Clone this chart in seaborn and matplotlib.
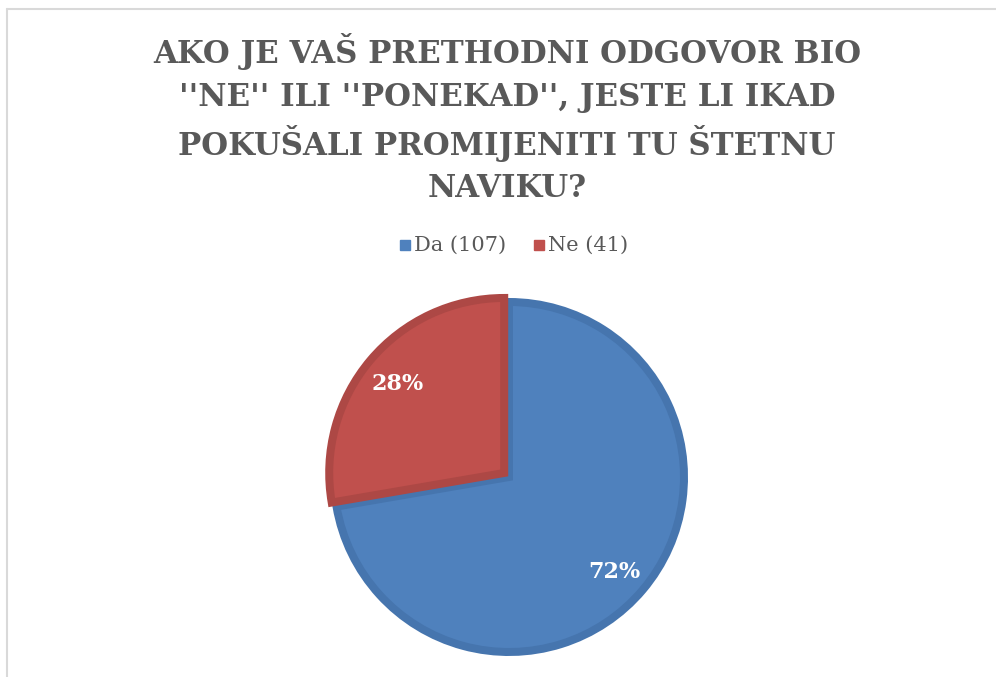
import matplotlib
matplotlib.use("Agg")
import matplotlib.pyplot as plt
from matplotlib.lines import Line2D
import seaborn as sns

# data
labels = ["Da", "Ne"]
counts = [107, 41]
shares = [72, 28]
colors = ["#4F81BD", "#C0504D"]
edge_colors = ["#4675AE", "#AD4845"]
title_lines = [
    "AKO JE VAŠ PRETHODNI ODGOVOR BIO",
    "''NE'' ILI ''PONEKAD'', JESTE LI IKAD",
    "POKUŠALI PROMIJENITI TU ŠTETNU",
    "NAVIKU?",
]

sns.set_theme(style="white")
plt.rcParams["font.family"] = ["DejaVu Serif"]

W, H = 996, 677
fig = plt.figure(figsize=(W / 100, H / 100), dpi=100)

# outer chart frame (light gray, runs off right/bottom)
fig.add_artist(Line2D([6.5 / W, 1], [1 - 8.5 / H, 1 - 8.5 / H], color="#D9D9D9", lw=1.5))
fig.add_artist(Line2D([6.5 / W, 6.5 / W], [1 - 8.5 / H, 0], color="#D9D9D9", lw=1.5))

# title
for i, line in enumerate(title_lines):
    fig.text(507 / W, 1 - (52 + i * 45.5) / H, line, ha="center", va="center",
             fontsize=22.2, fontweight="heavy", color="#595959")

# legend
leg_y = 1 - 245 / H
for x0, lab, n, c in zip([400, 534], labels, counts, colors):
    fig.add_artist(plt.Rectangle((x0 / W, leg_y - 5 / H), 10 / W, 10 / H,
                                 transform=fig.transFigure, color=c))
    fig.text((x0 + 14) / W, leg_y, f"{lab} ({n})", ha="left", va="center",
             fontsize=15, color="#595959")

# pie
cx, cy, r = 509, 477, 179
lw_px = 8
ax = fig.add_axes([(cx - r) / W, 1 - (cy + r) / H, 2 * r / W, 2 * r / H])
wedges, _ = ax.pie(counts, colors=colors, startangle=90, counterclock=False,
                   explode=[0, 0.035], radius=1 - lw_px / 2 / r,
                   wedgeprops=dict(linewidth=lw_px * 72 / 100))
for w, ec in zip(wedges, edge_colors):
    w.set_edgecolor(ec)
    w.set_joinstyle("miter")
ax.set_xlim(-1, 1)
ax.set_ylim(-1, 1)
ax.set_aspect("equal")
ax.axis("off")

label_px = [(614, 572), (398, 384)]
for (px, py), s in zip(label_px, shares):
    fig.text(px / W, 1 - py / H, f"{s}%", ha="center", va="center",
             fontsize=16, fontweight="bold", color="white")

fig.savefig("out.png", dpi=100, facecolor="white")
